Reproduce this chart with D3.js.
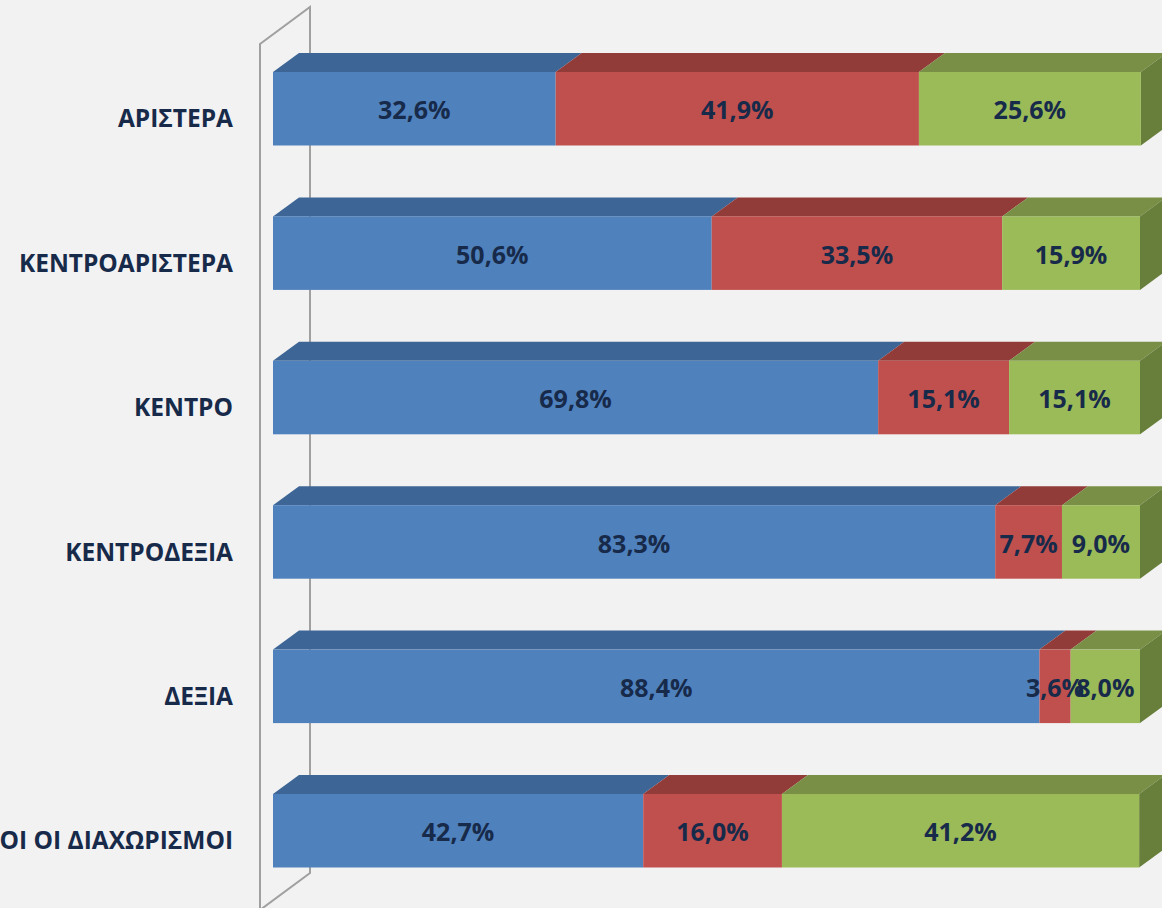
<!DOCTYPE html>
<html lang="en">
<head>
<meta charset="UTF-8">
<title>Chart</title>
<script src="https://d3js.org/d3.v7.min.js"></script>
<style>
  * { margin: 0; padding: 0; }
  body { background: #f2f2f2; overflow: hidden; }
</style>
</head>
<body>
<svg width="1162" height="908"></svg>
<script>
var categories = ["ΑΡΙΣΤΕΡΑ", "ΚΕΝΤΡΟΑΡΙΣΤΕΡΑ", "ΚΕΝΤΡΟ", "ΚΕΝΤΡΟΔΕΞΙΑ", "ΔΕΞΙΑ", "ΟΛΟΙ ΟΙ ΔΙΑΧΩΡΙΣΜΟΙ"];
var series1 = [32.6, 50.6, 69.8, 83.3, 88.4, 42.7];
var series2 = [41.9, 33.5, 15.1, 7.7, 3.6, 16.0];
var series3 = [25.6, 15.9, 15.1, 9.0, 8.0, 41.2];

var frontColors = ["#4f81bd", "#c0504d", "#9bbb59"];
var topColors = ["#3d6595", "#923c3a", "#788f45"];
var sideColors = ["#3a5f8c", "#8a3735", "#677f3a"];

var svg = d3.select("svg");
svg.append("rect").attr("width", 1162).attr("height", 908).attr("fill", "#f2f2f2");

var x = d3.scaleLinear().domain([0, 100]).range([273, 1140]);
var y = d3.scaleBand().domain(categories).range([0, 939.5]).paddingInner(0.491).paddingOuter(0.4986);
var dx = 26, dy = -19;

// wall
var wall = svg.append("g").attr("stroke", "#a0a0a0").attr("stroke-width", 2).attr("fill", "none");
wall.append("path").attr("d", "M260,44 L310,7 L310,873 L260,910 Z");

var rows = categories.map(function (c, i) {
  var vals = [series1[i], series2[i], series3[i]];
  var acc = 0;
  return vals.map(function (v, k) {
    var s = { cat: c, k: k, v: v, x0: acc, x1: acc + v };
    acc += v;
    return s;
  });
});

var g = svg.append("g");
rows.forEach(function (segs) {
  var row = g.append("g");
  var y0 = y(segs[0].cat), h = y.bandwidth();
  // top faces
  row.selectAll("path.top").data(segs).enter().append("path")
    .attr("fill", function (d) { return topColors[d.k]; })
    .attr("d", function (d) {
      var a = x(d.x0), b = x(d.x1);
      return "M" + a + "," + y0 + " L" + (a + dx) + "," + (y0 + dy) + " L" + (b + dx) + "," + (y0 + dy) + " L" + b + "," + y0 + " Z";
    });
  // side face of last segment
  var last = segs[segs.length - 1];
  var e = x(last.x1);
  row.append("path").attr("fill", sideColors[last.k])
    .attr("d", "M" + e + "," + y0 + " L" + (e + dx) + "," + (y0 + dy) + " L" + (e + dx) + "," + (y0 + dy + h) + " L" + e + "," + (y0 + h) + " Z");
  // front faces
  row.selectAll("rect.front").data(segs).enter().append("rect")
    .attr("x", function (d) { return x(d.x0); })
    .attr("y", y0)
    .attr("width", function (d) { return x(d.x1) - x(d.x0); })
    .attr("height", h)
    .attr("fill", function (d) { return frontColors[d.k]; });
  // value labels
  row.selectAll("text").data(segs).enter().append("text")
    .attr("x", function (d) { return (x(d.x0) + x(d.x1)) / 2; })
    .attr("y", y0 + h / 2 + 4)
    .attr("text-anchor", "middle")
    .attr("dominant-baseline", "middle")
    .attr("font-family", "'Open Sans', sans-serif")
    .attr("font-weight", "bold")
    .attr("font-size", 25)
    .attr("fill", "#172a4a")
    .text(function (d) { return d.v.toFixed(1).replace(".", ",") + "%"; });
});

// category labels
svg.append("g").selectAll("text").data(categories).enter().append("text")
  .attr("x", 233)
  .attr("y", function (d) { return y(d) + y.bandwidth() / 2 + 12; })
  .attr("text-anchor", "end")
  .attr("dominant-baseline", "middle")
  .attr("font-family", "'Open Sans', sans-serif")
  .attr("font-weight", "bold")
  .attr("font-size", 24.5)
  .attr("fill", "#172a4a")
  .text(function (d) { return d; });
</script>
</body>
</html>
